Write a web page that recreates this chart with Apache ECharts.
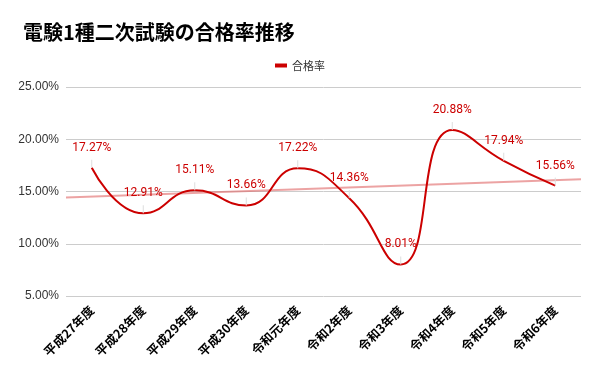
<!DOCTYPE html>
<html><head><meta charset="utf-8">
<script src="https://cdn.jsdelivr.net/npm/echarts@6/dist/echarts.min.js"></script>
<style>html,body{margin:0;padding:0;background:#fff}#c{width:600px;height:371px}</style>
</head><body><div id="c"></div>
<script>
const categories = ['平成27年度','平成28年度','平成29年度','平成30年度','令和元年度','令和2年度','令和3年度','令和4年度','令和5年度','令和6年度'];
const passRate = [17.27, 12.91, 15.11, 13.66, 17.22, 14.36, 8.01, 20.88, 17.94, 15.56];
const yTicks = [5, 10, 15, 20, 25];

// linear trend (least squares) computed from the data
const n = passRate.length;
const mx = (n - 1) / 2;
const my = passRate.reduce((a, b) => a + b, 0) / n;
let sxy = 0, sxx = 0;
passRate.forEach((v, i) => { sxy += (i - mx) * (v - my); sxx += (i - mx) * (i - mx); });
const slope = sxy / sxx;
const trendAt = x => my + slope * (x - mx);
const trend = [[-0.5, trendAt(-0.5)], [n - 0.5, trendAt(n - 0.5)]];

const FONT = 'Roboto, "Noto Sans CJK JP", sans-serif';
const chart = echarts.init(document.getElementById('c'));
chart.setOption({
  animation: false,
  title: {
    text: '電験1種二次試験の合格率推移',
    left: 18, top: 17,
    textStyle: { fontSize: 20, fontWeight: 'bold', color: '#000', fontFamily: '"Noto Sans CJK JP", sans-serif' }
  },
  legend: {
    data: ['合格率'],
    top: 55, left: 'center',
    itemWidth: 12, itemHeight: 4,
    icon: 'rect',
    itemStyle: { color: '#cc0000', opacity: 1 },
    textStyle: { fontSize: 11, color: '#333', fontFamily: '"Noto Sans CJK JP", sans-serif' }
  },
  grid: { left: 66, right: 19, top: 87, bottom: 75 },
  xAxis: [{
    type: 'category',
    data: categories,
    boundaryGap: true,
    axisLine: { show: false },
    axisTick: { show: false },
    axisLabel: {
      rotate: 45, interval: 0, margin: 12,
      fontSize: 12.5, fontWeight: 'bold', color: '#000',
      fontFamily: '"Noto Sans CJK JP", sans-serif'
    }
  }, {
    type: 'value', min: -0.5, max: n - 0.5, show: false
  }],
  yAxis: {
    type: 'value', min: yTicks[0], max: yTicks[yTicks.length - 1], interval: 5,
    axisLine: { show: false }, axisTick: { show: false },
    splitLine: { lineStyle: { color: '#cccccc', width: 1 } },
    axisLabel: {
      formatter: v => v.toFixed(2) + '%',
      fontSize: 12, color: '#333', margin: 7,
      fontFamily: '"Liberation Sans", Arial, sans-serif'
    }
  },
  series: [{
    name: '合格率',
    type: 'line',
    data: passRate,
    smooth: 0.5,
    showSymbol: true,
    symbol: 'circle',
    symbolSize: 0.1,
    itemStyle: { color: '#cc0000' },
    color: '#cc0000',
    lineStyle: { width: 2, color: '#cc0000' },
    label: {
      show: true, position: 'top', distance: 14,
      formatter: p => p.value.toFixed(2) + '%',
      fontSize: 12, color: '#cc0000', fontFamily: FONT
    },
    labelLine: { show: true, lineStyle: { color: '#dddddd', width: 1 } },
    z: 3
  }, {
    name: 'trend',
    type: 'line',
    xAxisIndex: 1,
    data: trend,
    symbol: 'none',
    silent: true,
    lineStyle: { width: 2, color: '#e06666', opacity: 0.6 },
    z: 2
  }]
});
</script></body></html>
